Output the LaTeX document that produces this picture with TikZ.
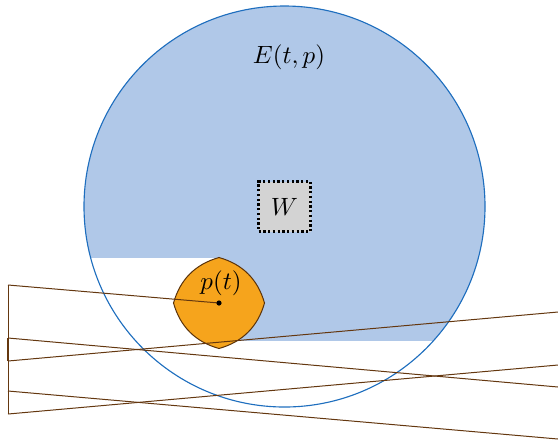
\documentclass[tikz,border=0pt]{standalone}
\begin{document}
\begin{tikzpicture}[x=0.4pt,y=0.4pt,
  region/.style={fill={rgb,255:red,176;green,200;blue,232}},
  rim/.style={draw={rgb,255:red,30;green,110;blue,190},line width=0.45pt},
  robot/.style={fill={rgb,255:red,246;green,164;blue,28},draw={rgb,255:red,90;green,50;blue,10},line width=0.4pt},
  beam/.style={draw={rgb,255:red,100;green,55;blue,15},line width=0.4pt},
  wbox/.style={draw,densely dotted,line width=0.9pt,fill={rgb,255:red,211;green,211;blue,211},minimum width=20.8pt,minimum height=20pt,inner sep=0pt}]
\useasboundingbox (0,0) rectangle (558,443);
\coordinate (c) at (284.5,236.5);
% blue region
\begin{scope}
  \clip (c) circle (200.5);
  \fill[region] (0,185.5) rectangle (600,500);
  \fill[region] (219,102) rectangle (600,186);
\end{scope}
\draw[rim] (c) circle (200.5);
\node[wbox] (W) at (c) {$W$};
\node (E) at (289,386) {$E(t,p)$};
% robot
\coordinate (pt) at (219,140);
\coordinate (rt) at (219,185.5);
\coordinate (rr) at (264.5,140);
\coordinate (rb) at (219,94.5);
\coordinate (rl) at (173.5,140);
\draw[robot] (rt) .. controls (242.7,178.8) and (257.8,163.7) .. (rr)
  .. controls (257.8,116.3) and (242.7,101.2) .. (rb)
  .. controls (195.3,101.2) and (180.2,116.3) .. (rl)
  .. controls (180.2,163.7) and (195.3,178.8) .. (rt) -- cycle;
\node (pl) at (221,160) {$p(t)$};
% beams
\coordinate (v0) at (8,158);
\coordinate (v1) at (8,105);
\coordinate (v2) at (8,82);
\coordinate (v3) at (8,52);
\coordinate (v4) at (8,29);
\coordinate (e1) at (558,56);
\coordinate (e2) at (558,131);
\coordinate (e3) at (558,4);
\coordinate (e4) at (558,78);
\draw[beam,line width=0.35pt] (v0) -- (v4);
\draw[beam,line width=1.1pt] (v1) -- (v2);
\draw[beam] (v0) -- (pt);
\draw[beam] (v1) -- (e1);
\draw[beam] (v2) -- (e2);
\draw[beam] (v3) -- (e3);
\draw[beam] (v4) -- (e4);
\fill (pt) circle (2.6);
\end{tikzpicture}
\end{document}
